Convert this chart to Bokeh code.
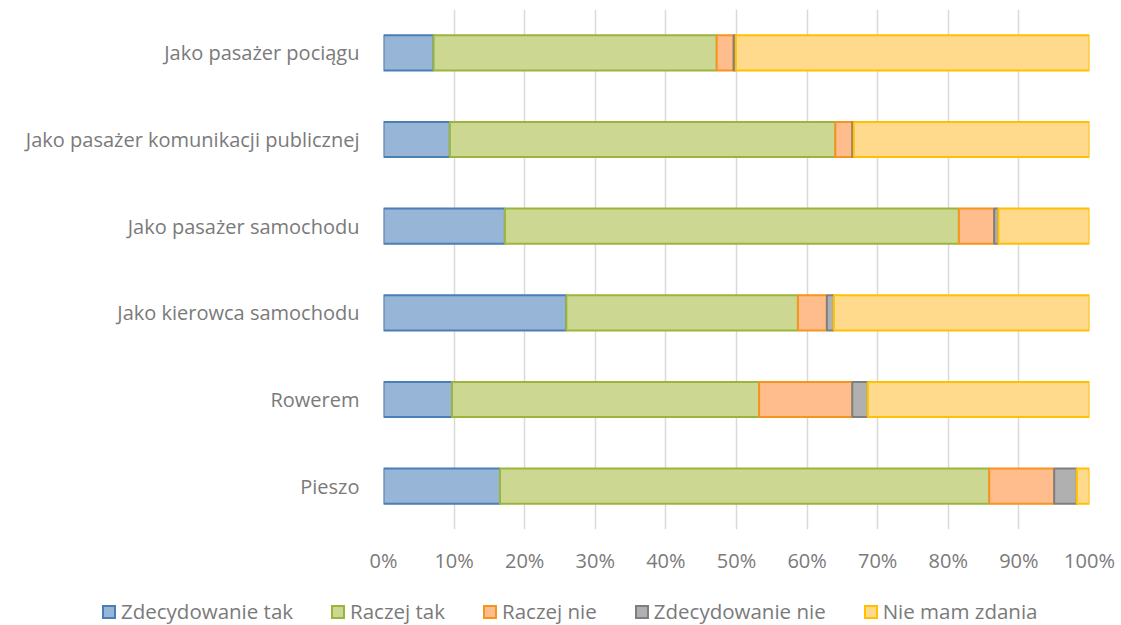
from bokeh.plotting import figure
from bokeh.layouts import column
from bokeh.models import FactorRange, FixedTicker, PrintfTickFormatter, ColumnDataSource, Div
from bokeh.embed import file_html
from bokeh.resources import INLINE

categories = ["Jako pasażer pociągu", "Jako pasażer komunikacji publicznej", "Jako pasażer samochodu",
              "Jako kierowca samochodu", "Rowerem", "Pieszo"]
zdecydowanie_tak = [7.1, 9.4, 17.2, 25.9, 9.7, 16.5]
raczej_tak = [40.1, 54.6, 64.3, 32.8, 43.5, 69.3]
raczej_nie = [2.4, 2.4, 5.0, 4.1, 13.2, 9.2]
zdecydowanie_nie = [0.3, 0.2, 0.6, 1.0, 2.2, 3.2]
nie_mam_zdania = [50.1, 33.4, 12.9, 36.2, 31.4, 1.8]
series_names = ["Zdecydowanie tak", "Raczej tak", "Raczej nie", "Zdecydowanie nie", "Nie mam zdania"]
x_ticks = [0, 10, 20, 30, 40, 50, 60, 70, 80, 90, 100]

fills = ["#97B5D6", "#CCD892", "#FFBC8C", "#B0B0B0", "#FFDA8C"]
lines = ["#4A7EB4", "#9BB53C", "#F7941E", "#7F7F7F", "#FFC000"]
TEXT = "#7A7A7A"
FONT = "Open Sans"

keys = ["s0", "s1", "s2", "s3", "s4"]
data = dict(cat=categories, s0=zdecydowanie_tak, s1=raczej_tak, s2=raczej_nie,
            s3=zdecydowanie_nie, s4=nie_mam_zdania)
source = ColumnDataSource(data)

p = figure(width=1121, height=581, output_backend="svg", toolbar_location=None,
           y_range=FactorRange(factors=list(reversed(categories)), range_padding=0),
           x_range=(0, 100))
p.min_border_left = 383
p.min_border_right = 32
p.min_border_top = 9
p.min_border_bottom = 52
p.outline_line_color = None

p.hbar_stack(keys, y="cat", height=0.405, source=source,
             fill_color=fills, line_color=lines, line_width=2)

p.xaxis.ticker = FixedTicker(ticks=x_ticks)
p.xaxis.formatter = PrintfTickFormatter(format="%d%%")
for ax in [p.xaxis[0], p.yaxis[0]]:
    ax.axis_line_color = None
    ax.major_tick_line_color = None
    ax.minor_tick_line_color = None
    ax.major_label_text_color = TEXT
    ax.major_label_text_font = FONT
    ax.major_label_text_font_size = "20px"
p.xaxis.major_label_standoff = 11
p.yaxis.major_label_standoff = 18
p.ygrid.grid_line_color = None
p.xgrid.grid_line_color = "#D9D9D9"
p.xgrid.grid_line_width = 1.5

# legend strip below the chart
item_html = []
for name, fc, lc in zip(series_names, fills, lines):
    item_html.append(
        f'<span style="display:inline-flex;align-items:center;">'
        f'<span style="display:inline-block;box-sizing:border-box;width:14px;height:14px;'
        f'background:{fc};border:2px solid {lc};margin-right:5px;"></span>'
        f'<span>{name}</span></span>'
    )
legend_html = (
    f'<div style="display:flex;align-items:center;gap:38px;width:1121px;height:44px;'
    f'box-sizing:border-box;padding-left:102px;padding-top:17px;'
    f'font-family:\'{FONT}\';font-size:20.5px;color:{TEXT};white-space:nowrap;">'
    + "".join(item_html) + '</div>'
)
leg = Div(text=legend_html, width=1121, height=44, margin=0)

layout = column(p, leg, spacing=0)
open("out.html", "w").write(file_html(layout, INLINE))
